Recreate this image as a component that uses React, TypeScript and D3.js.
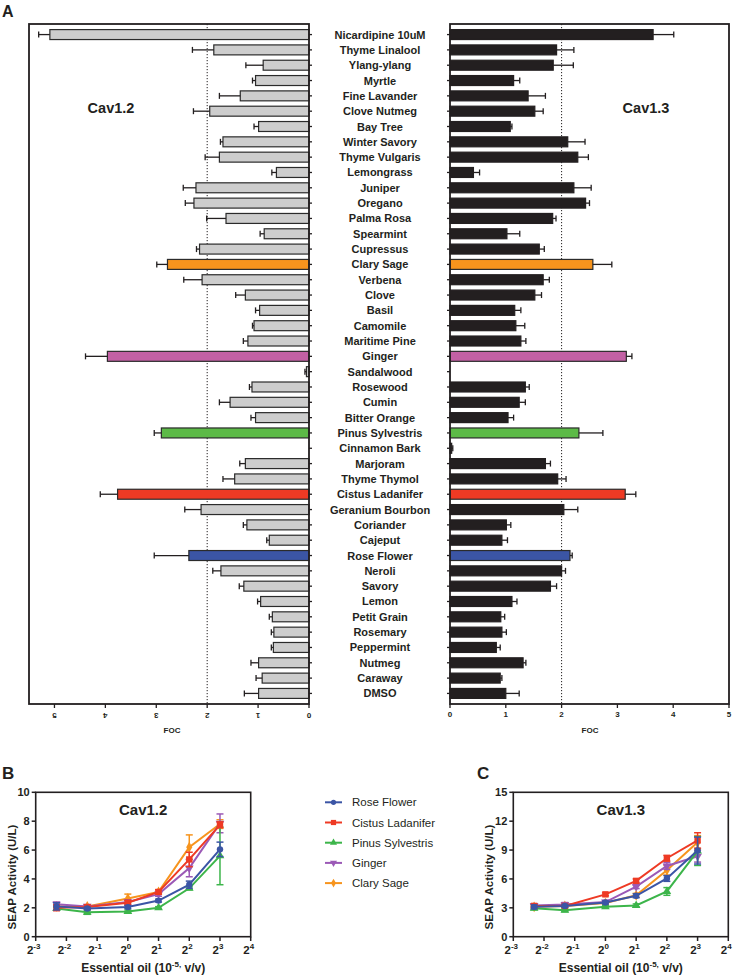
import React from "react";
import * as d3 from "d3";

const categories = ["Nicardipine 10uM","Thyme Linalool","Ylang-ylang","Myrtle","Fine Lavander","Clove Nutmeg","Bay Tree","Winter Savory","Thyme Vulgaris","Lemongrass","Juniper","Oregano","Palma Rosa","Spearmint","Cupressus","Clary Sage","Verbena","Clove","Basil","Camomile","Maritime Pine","Ginger","Sandalwood","Rosewood","Cumin","Bitter Orange","Pinus Sylvestris","Cinnamon Bark","Marjoram","Thyme Thymol","Cistus Ladanifer","Geranium Bourbon","Coriander","Cajeput","Rose Flower","Neroli","Savory","Lemon","Petit Grain","Rosemary","Peppermint","Nutmeg","Caraway","DMSO"];

const cav12 = [5.09,1.87,0.90,1.05,1.35,1.95,0.99,1.69,1.76,0.64,2.22,2.26,1.63,0.88,2.15,2.78,2.10,1.25,0.97,1.08,1.20,3.96,0.05,1.12,1.55,1.05,2.90,0.0,1.25,1.46,3.76,2.12,1.22,0.78,2.36,1.73,1.28,0.95,0.72,0.69,0.70,0.99,0.92,0.99];
const cav12Err = [0.22,0.42,0.34,0.06,0.41,0.32,0.09,0.05,0.28,0.09,0.25,0.17,0.38,0.08,0.06,0.21,0.36,0.19,0.08,0.03,0.09,0.43,0.03,0.05,0.21,0.09,0.14,0.0,0.11,0.23,0.34,0.32,0.07,0.05,0.68,0.16,0.09,0.06,0.06,0.05,0.04,0.15,0.12,0.28];

const cav13 = [3.64,1.91,1.85,1.14,1.40,1.52,1.08,2.11,2.29,0.42,2.22,2.43,1.84,1.02,1.60,2.56,1.67,1.52,1.16,1.18,1.27,3.16,0.0,1.35,1.24,1.04,2.31,0.03,1.71,1.93,3.14,2.04,1.01,0.93,2.15,2.00,1.80,1.11,0.91,0.93,0.83,1.31,0.90,1.00];
const cav13Err = [0.37,0.31,0.36,0.11,0.31,0.15,0.03,0.31,0.19,0.11,0.31,0.07,0.06,0.23,0.09,0.34,0.11,0.12,0.11,0.16,0.09,0.10,0.0,0.07,0.11,0.10,0.43,0.02,0.09,0.15,0.19,0.25,0.08,0.10,0.04,0.07,0.11,0.09,0.07,0.08,0.07,0.05,0.03,0.24];

const highlight: Record<string, string> = {
  "Clary Sage": "#f7941d",
  "Ginger": "#c260a4",
  "Pinus Sylvestris": "#5cba47",
  "Cistus Ladanifer": "#ee3a24",
  "Rose Flower": "#3b55a5",
};

const focTicks = [0, 1, 2, 3, 4, 5];

const doses = [0.2, 0.4, 1, 2, 4, 8];
const doseTicks = [-3, -2, -1, 0, 1, 2, 3, 4];

const seriesNames = ["Rose Flower", "Cistus Ladanifer", "Pinus Sylvestris", "Ginger", "Clary Sage"];
const seriesColors = ["#3b55a5", "#ee3a24", "#3cb54a", "#9b59b6", "#f7941d"];
const seriesShapes = ["circle", "square", "triangle", "triangleDown", "diamond"];

const b_rose = [2.1, 1.95, 2.05, 2.5, 3.6, 6.05];
const b_roseErr = [0.25, 0.1, 0.1, 0.1, 0.25, 0.5];
const b_cistus = [2.0, 2.05, 2.35, 3.1, 5.35, 7.75];
const b_cistusErr = [0.2, 0.15, 0.15, 0.15, 0.5, 0.2];
const b_pinus = [1.95, 1.7, 1.75, 2.0, 3.35, 5.6];
const b_pinusErr = [0.1, 0.15, 0.1, 0.08, 0.1, 2.0];
const b_ginger = [2.25, 2.1, 2.4, 2.95, 4.75, 7.85];
const b_gingerErr = [0.15, 0.1, 0.15, 0.15, 0.6, 0.65];
const b_clary = [2.1, 2.1, 2.65, 3.1, 6.2, 7.8];
const b_claryErr = [0.1, 0.1, 0.3, 0.15, 0.85, 0.3];

const c_rose = [3.1, 3.2, 3.55, 4.25, 6.05, 8.95];
const c_roseErr = [0.2, 0.15, 0.15, 0.2, 0.3, 1.4];
const c_cistus = [3.2, 3.2, 4.4, 5.8, 8.15, 10.0];
const c_cistusErr = [0.15, 0.15, 0.15, 0.2, 0.3, 0.8];
const c_pinus = [2.95, 2.75, 3.1, 3.25, 4.7, 8.9];
const c_pinusErr = [0.15, 0.15, 0.15, 0.15, 0.4, 1.5];
const c_ginger = [3.25, 3.35, 3.6, 5.2, 7.35, 8.35];
const c_gingerErr = [0.15, 0.2, 0.15, 0.2, 0.35, 0.6];
const c_clary = [3.1, 3.2, 3.5, 4.3, 6.9, 9.8];
const c_claryErr = [0.15, 0.15, 0.15, 0.2, 0.5, 0.7];

const bTicks = [0, 2, 4, 6, 8, 10];
const cTicks = [0, 3, 6, 9, 12, 15];

const FONT = "'Liberation Sans', Arial, Helvetica, sans-serif";
const INK = "#231f20";

function Marker({ shape, x, y, color, s = 3.2 }: any) {
  if (shape === "circle") return <circle cx={x} cy={y} r={s} fill={color} />;
  if (shape === "square") return <rect x={x - s} y={y - s} width={2 * s} height={2 * s} fill={color} />;
  const sym =
    shape === "triangle" ? d3.symbolTriangle : shape === "diamond" ? d3.symbolDiamond : d3.symbolTriangle;
  const path = d3.symbol(sym, s * s * 3.2)();
  const rot = shape === "triangleDown" ? 180 : 0;
  return <path d={path || ""} transform={`translate(${x},${y}) rotate(${rot})`} fill={color} />;
}

function LinePanel({ x0, x1, yMax, ticks, data, errs, title, letter, letterX }: any) {
  const x = d3.scaleLog().base(2).domain([1 / 8, 16]).range([x0, x1]);
  const y = d3.scaleLinear().domain([0, yMax]).range([936.7, 792.3]);
  const line = d3.line<number>().x((_, i) => x(doses[i])).y((v) => y(v));
  const order = [4, 3, 2, 1, 0];
  return (
    <g>
      <text x={letterX} y={779} fontSize={17} fontWeight="bold" fontFamily={FONT} fill={INK}>{letter}</text>
      <rect x={x0} y={792.3} width={x1 - x0} height={936.7 - 792.3} fill="none" stroke={INK} strokeWidth={1.6} />
      {ticks.map((t: number) => (
        <g key={t}>
          <line x1={x0 - 4} x2={x0} y1={y(t)} y2={y(t)} stroke={INK} strokeWidth={1.5} />
          <text x={x0 - 6} y={y(t) + 4} textAnchor="end" fontSize={11} fontWeight="bold" fontFamily={FONT} fill={INK}>{t}</text>
        </g>
      ))}
      {doseTicks.map((p) => (
        <g key={p}>
          <line x1={x(Math.pow(2, p))} x2={x(Math.pow(2, p))} y1={936.7} y2={941} stroke={INK} strokeWidth={1.5} />
          <text x={x(Math.pow(2, p)) - 2} y={954} textAnchor="middle" fontSize={11.5} fontWeight="bold" fontFamily={FONT} fill={INK}>
            2<tspan fontSize={8} dy={-5}>{p}</tspan>
          </text>
        </g>
      ))}
      <text x={(x0 + x1) / 2} y={815} textAnchor="middle" fontSize={15} fontWeight="bold" fontFamily={FONT} fill={INK}>{title}</text>
      <text transform={`translate(${x0 - 20},${877}) rotate(-90)`} textAnchor="middle" fontSize={11.5} fontWeight="bold" fontFamily={FONT} fill={INK}>SEAP Activity (U/L)</text>
      <text x={(x0 + x1) / 2} y={972} textAnchor="middle" fontSize={12} fontWeight="bold" fontFamily={FONT} fill={INK}>
        Essential oil (10<tspan fontSize={8} dy={-5}>-5,</tspan><tspan dy={5}> v/v)</tspan>
      </text>
      {order.map((k) => (
        <g key={k}>
          {data[k].map((v: number, i: number) => (
            <g key={i}>
              <line x1={x(doses[i])} x2={x(doses[i])} y1={y(v - errs[k][i])} y2={y(v + errs[k][i])} stroke={seriesColors[k]} strokeWidth={1.5} />
              <line x1={x(doses[i]) - 3.5} x2={x(doses[i]) + 3.5} y1={y(v + errs[k][i])} y2={y(v + errs[k][i])} stroke={seriesColors[k]} strokeWidth={1.5} />
              <line x1={x(doses[i]) - 3.5} x2={x(doses[i]) + 3.5} y1={y(v - errs[k][i])} y2={y(v - errs[k][i])} stroke={seriesColors[k]} strokeWidth={1.5} />
            </g>
          ))}
          <path d={line(data[k]) || ""} fill="none" stroke={seriesColors[k]} strokeWidth={2} />
          {data[k].map((v: number, i: number) => (
            <Marker key={i} shape={seriesShapes[k]} x={x(doses[i])} y={y(v)} color={seriesColors[k]} />
          ))}
        </g>
      ))}
    </g>
  );
}

export default function App() {
  const y = d3.scaleBand<string>().domain(categories).range([24, 704]).paddingInner(0.35).paddingOuter(0.365);
  const xL = d3.scaleLinear().domain([0, 5.5]).range([309, 29]);
  const xR = d3.scaleLinear().domain([0, 5]).range([450, 729]);
  const bw = y.bandwidth();

  const bData = [b_rose, b_cistus, b_pinus, b_ginger, b_clary];
  const bErr = [b_roseErr, b_cistusErr, b_pinusErr, b_gingerErr, b_claryErr];
  const cData = [c_rose, c_cistus, c_pinus, c_ginger, c_clary];
  const cErr = [c_roseErr, c_cistusErr, c_pinusErr, c_gingerErr, c_claryErr];

  return (
    <div style={{ position: "absolute", left: 0, top: 0 }}>
      <svg width={735} height={975} style={{ display: "block", background: "#fff" }}>
        <text x={2} y={17} fontSize={16} fontWeight="bold" fontFamily={FONT} fill={INK}>A</text>

        {/* Left panel Cav1.2 */}
        <line x1={xL(2)} x2={xL(2)} y1={24} y2={704} stroke={INK} strokeWidth={1} strokeDasharray="1.2,1.8" />
        <line x1={xR(2)} x2={xR(2)} y1={24} y2={704} stroke={INK} strokeWidth={1} strokeDasharray="1.2,1.8" />

        {categories.map((c, i) => {
          const yc = (y(c) as number) + bw / 2;
          const fillL = highlight[c] || "#cdcdcd";
          const fillR = highlight[c] || INK;
          const vL = cav12[i], eL = cav12Err[i];
          const vR = cav13[i], eR = cav13Err[i];
          return (
            <g key={c}>
              {vL > 0 && (
                <rect x={xL(vL)} y={y(c)} width={xL(0) - xL(vL)} height={bw} fill={fillL} stroke="#2b2b2b" strokeWidth={1.2} />
              )}
              {eL > 0 && (
                <g stroke={INK} strokeWidth={1.3}>
                  <line x1={xL(vL)} x2={xL(vL + eL)} y1={yc} y2={yc} />
                  <line x1={xL(vL + eL)} x2={xL(vL + eL)} y1={yc - 3} y2={yc + 3} />
                </g>
              )}
              {vR > 0 && (
                <rect x={xR(0)} y={y(c)} width={xR(vR) - xR(0)} height={bw} fill={fillR} stroke={highlight[c] ? "#2b2b2b" : INK} strokeWidth={1.2} />
              )}
              {eR > 0 && (
                <g stroke={INK} strokeWidth={1.3}>
                  <line x1={xR(vR)} x2={xR(vR + eR)} y1={yc} y2={yc} />
                  <line x1={xR(vR + eR)} x2={xR(vR + eR)} y1={yc - 3} y2={yc + 3} />
                </g>
              )}
              <line x1={309} x2={312} y1={yc} y2={yc} stroke={INK} strokeWidth={1.3} />
              <line x1={447} x2={450} y1={yc} y2={yc} stroke={INK} strokeWidth={1.3} />
              <text x={380} y={yc + 4} textAnchor="middle" fontSize={11} fontWeight="bold" fontFamily={FONT} fill={INK}>{c}</text>
            </g>
          );
        })}

        <rect x={29} y={24} width={280} height={680} fill="none" stroke={INK} strokeWidth={1.8} />
        <rect x={450} y={24} width={279} height={680} fill="none" stroke={INK} strokeWidth={1.8} />

        {focTicks.map((t) => (
          <g key={"l" + t}>
            <line x1={xL(t)} x2={xL(t)} y1={704} y2={708} stroke={INK} strokeWidth={1.3} />
            <text transform={`translate(${xL(t)},${713}) rotate(180)`} textAnchor="middle" fontSize={8} fontWeight="bold" fontFamily={FONT} fill={INK}>{t}</text>
          </g>
        ))}
        {focTicks.map((t) => (
          <g key={"r" + t}>
            <line x1={xR(t)} x2={xR(t)} y1={704} y2={708} stroke={INK} strokeWidth={1.3} />
            <text x={xR(t)} y={717} textAnchor="middle" fontSize={8} fontWeight="bold" fontFamily={FONT} fill={INK}>{t}</text>
          </g>
        ))}
        <text x={172} y={733} textAnchor="middle" fontSize={8} fontWeight="bold" fontFamily={FONT} fill={INK}>FOC</text>
        <text x={590} y={733} textAnchor="middle" fontSize={8} fontWeight="bold" fontFamily={FONT} fill={INK}>FOC</text>

        <text x={111} y={113} textAnchor="middle" fontSize={14.5} fontWeight="bold" fontFamily={FONT} fill={INK}>Cav1.2</text>
        <text x={646} y={113} textAnchor="middle" fontSize={14.5} fontWeight="bold" fontFamily={FONT} fill={INK}>Cav1.3</text>

        <LinePanel x0={35.7} x1={250.7} yMax={10} ticks={bTicks} data={bData} errs={bErr} title="Cav1.2" letter="B" letterX={2} />
        <LinePanel x0={513.3} x1={728.3} yMax={15} ticks={cTicks} data={cData} errs={cErr} title="Cav1.3" letter="C" letterX={477} />

        {seriesNames.map((n, k) => {
          const ly = 802.3 + k * 20.2;
          return (
            <g key={n}>
              <line x1={325} x2={342} y1={ly} y2={ly} stroke={seriesColors[k]} strokeWidth={2} />
              <Marker shape={seriesShapes[k]} x={333.5} y={ly} color={seriesColors[k]} s={2.6} />
              <text x={352} y={ly + 4} fontSize={11.5} fontFamily={FONT} fill={INK}>{n}</text>
            </g>
          );
        })}
      </svg>
    </div>
  );
}
